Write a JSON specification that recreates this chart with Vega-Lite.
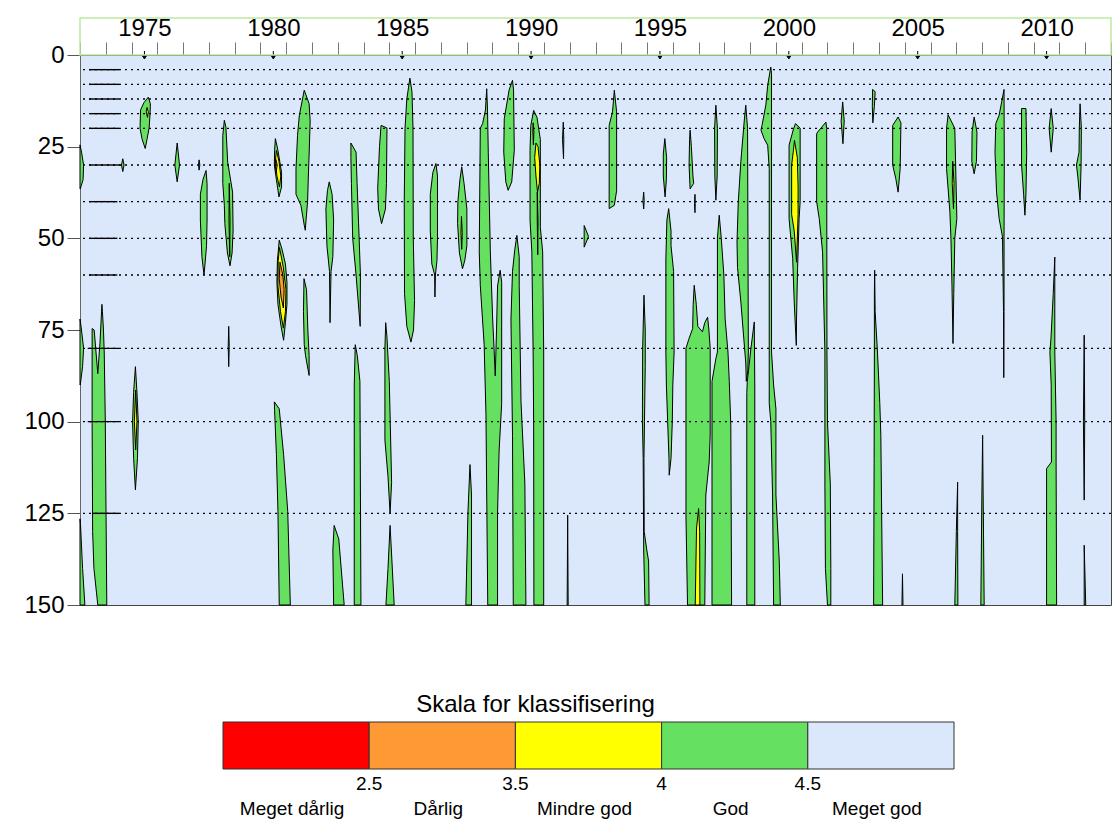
{
  "$schema": "https://vega.github.io/schema/vega-lite/v6.json",
  "background": "white",
  "padding": {"left": 23, "top": 15, "right": 5, "bottom": 5},
  "bounds": "flush",
  "spacing": 117,
  "config": {
    "font": "Liberation Sans",
    "view": {"stroke": null},
    "axis": {"labelColor": "#000", "labelFont": "Liberation Sans", "grid": false, "labelOverlap": false},
    "axisX": {"labelOverlap": false},
    "axisQuantitative": {"labelOverlap": false}
  },
  "datasets": {
    "felt": [
      {"id":"g01","klasse":"God","n":1,"aar":1973.00,"dyp":24.5},{"id":"g01","klasse":"God","n":2,"aar":1973.06,"dyp":26.5},{"id":"g01","klasse":"God","n":3,"aar":1973.14,"dyp":30},{"id":"g01","klasse":"God","n":4,"aar":1973.12,"dyp":34},{"id":"g01","klasse":"God","n":5,"aar":1973.01,"dyp":36.5},{"id":"g01","klasse":"God","n":6,"aar":1973.00,"dyp":36.5},{"id":"g01","klasse":"God","n":7,"aar":1973.00,"dyp":24.5},
      {"id":"g02","klasse":"God","n":1,"aar":1973.00,"dyp":72},{"id":"g02","klasse":"God","n":2,"aar":1973.04,"dyp":74},{"id":"g02","klasse":"God","n":3,"aar":1973.14,"dyp":80},{"id":"g02","klasse":"God","n":4,"aar":1973.10,"dyp":85},{"id":"g02","klasse":"God","n":5,"aar":1973.01,"dyp":90},{"id":"g02","klasse":"God","n":6,"aar":1973.00,"dyp":90},{"id":"g02","klasse":"God","n":7,"aar":1973.00,"dyp":72},
      {"id":"g03","klasse":"God","n":1,"aar":1973.00,"dyp":126.5},{"id":"g03","klasse":"God","n":2,"aar":1973.02,"dyp":128},{"id":"g03","klasse":"God","n":3,"aar":1973.10,"dyp":140},{"id":"g03","klasse":"God","n":4,"aar":1973.19,"dyp":150},{"id":"g03","klasse":"God","n":5,"aar":1973.00,"dyp":150},{"id":"g03","klasse":"God","n":6,"aar":1973.00,"dyp":126.5},
      {"id":"g04","klasse":"God","n":1,"aar":1973.47,"dyp":74.6},{"id":"g04","klasse":"God","n":2,"aar":1973.55,"dyp":75},{"id":"g04","klasse":"God","n":3,"aar":1973.69,"dyp":86.9},{"id":"g04","klasse":"God","n":4,"aar":1973.78,"dyp":78},{"id":"g04","klasse":"God","n":5,"aar":1973.85,"dyp":68},{"id":"g04","klasse":"God","n":6,"aar":1973.87,"dyp":70},{"id":"g04","klasse":"God","n":7,"aar":1973.91,"dyp":75},{"id":"g04","klasse":"God","n":8,"aar":1973.94,"dyp":81},{"id":"g04","klasse":"God","n":9,"aar":1973.98,"dyp":99},{"id":"g04","klasse":"God","n":10,"aar":1974.01,"dyp":125},{"id":"g04","klasse":"God","n":11,"aar":1974.04,"dyp":150},{"id":"g04","klasse":"God","n":12,"aar":1973.69,"dyp":150},{"id":"g04","klasse":"God","n":13,"aar":1973.54,"dyp":140},{"id":"g04","klasse":"God","n":14,"aar":1973.49,"dyp":130},{"id":"g04","klasse":"God","n":15,"aar":1973.47,"dyp":100},{"id":"g04","klasse":"God","n":16,"aar":1973.47,"dyp":80},{"id":"g04","klasse":"God","n":17,"aar":1973.47,"dyp":74.6},
      {"id":"g05","klasse":"God","n":1,"aar":1975.65,"dyp":11.5},{"id":"g05","klasse":"God","n":2,"aar":1975.73,"dyp":13.3},{"id":"g05","klasse":"God","n":3,"aar":1975.72,"dyp":16},{"id":"g05","klasse":"God","n":4,"aar":1975.68,"dyp":20},{"id":"g05","klasse":"God","n":5,"aar":1975.60,"dyp":23},{"id":"g05","klasse":"God","n":6,"aar":1975.53,"dyp":25.5},{"id":"g05","klasse":"God","n":7,"aar":1975.41,"dyp":23},{"id":"g05","klasse":"God","n":8,"aar":1975.33,"dyp":20},{"id":"g05","klasse":"God","n":9,"aar":1975.35,"dyp":15},{"id":"g05","klasse":"God","n":10,"aar":1975.48,"dyp":13},{"id":"g05","klasse":"God","n":11,"aar":1975.65,"dyp":11.5},
      {"id":"y05","klasse":"Mindre god","n":1,"aar":1975.60,"dyp":14.3},{"id":"y05","klasse":"Mindre god","n":2,"aar":1975.65,"dyp":15.5},{"id":"y05","klasse":"Mindre god","n":3,"aar":1975.62,"dyp":17},{"id":"y05","klasse":"Mindre god","n":4,"aar":1975.57,"dyp":15.5},{"id":"y05","klasse":"Mindre god","n":5,"aar":1975.60,"dyp":14.3},
      {"id":"g06","klasse":"God","n":1,"aar":1974.66,"dyp":28.3},{"id":"g06","klasse":"God","n":2,"aar":1974.71,"dyp":30},{"id":"g06","klasse":"God","n":3,"aar":1974.66,"dyp":31.8},{"id":"g06","klasse":"God","n":4,"aar":1974.61,"dyp":30},{"id":"g06","klasse":"God","n":5,"aar":1974.66,"dyp":28.3},
      {"id":"g07","klasse":"God","n":1,"aar":1976.77,"dyp":24},{"id":"g07","klasse":"God","n":2,"aar":1976.86,"dyp":30},{"id":"g07","klasse":"God","n":3,"aar":1976.77,"dyp":34.6},{"id":"g07","klasse":"God","n":4,"aar":1976.68,"dyp":30},{"id":"g07","klasse":"God","n":5,"aar":1976.77,"dyp":24},
      {"id":"g08","klasse":"God","n":1,"aar":1977.62,"dyp":28.6},{"id":"g08","klasse":"God","n":2,"aar":1977.65,"dyp":30},{"id":"g08","klasse":"God","n":3,"aar":1977.62,"dyp":31.4},{"id":"g08","klasse":"God","n":4,"aar":1977.60,"dyp":30},{"id":"g08","klasse":"God","n":5,"aar":1977.62,"dyp":28.6},
      {"id":"g09","klasse":"God","n":1,"aar":1977.89,"dyp":31.5},{"id":"g09","klasse":"God","n":2,"aar":1977.93,"dyp":35},{"id":"g09","klasse":"God","n":3,"aar":1977.93,"dyp":45},{"id":"g09","klasse":"God","n":4,"aar":1977.91,"dyp":52},{"id":"g09","klasse":"God","n":5,"aar":1977.85,"dyp":57},{"id":"g09","klasse":"God","n":6,"aar":1977.81,"dyp":60},{"id":"g09","klasse":"God","n":7,"aar":1977.73,"dyp":55},{"id":"g09","klasse":"God","n":8,"aar":1977.67,"dyp":45},{"id":"g09","klasse":"God","n":9,"aar":1977.67,"dyp":38},{"id":"g09","klasse":"God","n":10,"aar":1977.77,"dyp":34},{"id":"g09","klasse":"God","n":11,"aar":1977.89,"dyp":31.5},
      {"id":"g10","klasse":"God","n":1,"aar":1978.60,"dyp":17.8},{"id":"g10","klasse":"God","n":2,"aar":1978.66,"dyp":19.6},{"id":"g10","klasse":"God","n":3,"aar":1978.73,"dyp":29.2},{"id":"g10","klasse":"God","n":4,"aar":1978.92,"dyp":37.4},{"id":"g10","klasse":"God","n":5,"aar":1978.94,"dyp":48},{"id":"g10","klasse":"God","n":6,"aar":1978.90,"dyp":54},{"id":"g10","klasse":"God","n":7,"aar":1978.82,"dyp":57.5},{"id":"g10","klasse":"God","n":8,"aar":1978.72,"dyp":54},{"id":"g10","klasse":"God","n":9,"aar":1978.62,"dyp":46},{"id":"g10","klasse":"God","n":10,"aar":1978.60,"dyp":41},{"id":"g10","klasse":"God","n":11,"aar":1978.54,"dyp":35},{"id":"g10","klasse":"God","n":12,"aar":1978.54,"dyp":22},{"id":"g10","klasse":"God","n":13,"aar":1978.60,"dyp":17.8},
      {"id":"y10","klasse":"Mindre god","n":1,"aar":1978.79,"dyp":35},{"id":"y10","klasse":"Mindre god","n":2,"aar":1978.82,"dyp":45},{"id":"y10","klasse":"Mindre god","n":3,"aar":1978.81,"dyp":55},{"id":"y10","klasse":"Mindre god","n":4,"aar":1978.78,"dyp":45},{"id":"y10","klasse":"Mindre god","n":5,"aar":1978.79,"dyp":35},
      {"id":"g11","klasse":"God","n":1,"aar":1980.58,"dyp":22.8},{"id":"g11","klasse":"God","n":2,"aar":1980.68,"dyp":26},{"id":"g11","klasse":"God","n":3,"aar":1980.82,"dyp":32},{"id":"g11","klasse":"God","n":4,"aar":1980.82,"dyp":36},{"id":"g11","klasse":"God","n":5,"aar":1980.72,"dyp":38.7},{"id":"g11","klasse":"God","n":6,"aar":1980.62,"dyp":34},{"id":"g11","klasse":"God","n":7,"aar":1980.54,"dyp":30},{"id":"g11","klasse":"God","n":8,"aar":1980.55,"dyp":26},{"id":"g11","klasse":"God","n":9,"aar":1980.58,"dyp":22.8},
      {"id":"y11","klasse":"Mindre god","n":1,"aar":1980.62,"dyp":26},{"id":"y11","klasse":"Mindre god","n":2,"aar":1980.72,"dyp":29},{"id":"y11","klasse":"Mindre god","n":3,"aar":1980.79,"dyp":33},{"id":"y11","klasse":"Mindre god","n":4,"aar":1980.74,"dyp":36},{"id":"y11","klasse":"Mindre god","n":5,"aar":1980.64,"dyp":33},{"id":"y11","klasse":"Mindre god","n":6,"aar":1980.58,"dyp":29},{"id":"y11","klasse":"Mindre god","n":7,"aar":1980.62,"dyp":26},
      {"id":"o11","klasse":"Dårlig","n":1,"aar":1980.60,"dyp":28.5},{"id":"o11","klasse":"Dårlig","n":2,"aar":1980.65,"dyp":30},{"id":"o11","klasse":"Dårlig","n":3,"aar":1980.61,"dyp":32},{"id":"o11","klasse":"Dårlig","n":4,"aar":1980.57,"dyp":30},{"id":"o11","klasse":"Dårlig","n":5,"aar":1980.60,"dyp":28.5},
      {"id":"g12","klasse":"God","n":1,"aar":1980.73,"dyp":50.5},{"id":"g12","klasse":"God","n":2,"aar":1980.84,"dyp":53},{"id":"g12","klasse":"God","n":3,"aar":1980.97,"dyp":57},{"id":"g12","klasse":"God","n":4,"aar":1981.03,"dyp":62},{"id":"g12","klasse":"God","n":5,"aar":1981.03,"dyp":68},{"id":"g12","klasse":"God","n":6,"aar":1980.97,"dyp":73},{"id":"g12","klasse":"God","n":7,"aar":1980.90,"dyp":77.8},{"id":"g12","klasse":"God","n":8,"aar":1980.80,"dyp":74},{"id":"g12","klasse":"God","n":9,"aar":1980.68,"dyp":68},{"id":"g12","klasse":"God","n":10,"aar":1980.64,"dyp":62},{"id":"g12","klasse":"God","n":11,"aar":1980.66,"dyp":56},{"id":"g12","klasse":"God","n":12,"aar":1980.73,"dyp":50.5},
      {"id":"y12","klasse":"Mindre god","n":1,"aar":1980.74,"dyp":52.5},{"id":"y12","klasse":"Mindre god","n":2,"aar":1980.89,"dyp":58},{"id":"y12","klasse":"Mindre god","n":3,"aar":1980.99,"dyp":64},{"id":"y12","klasse":"Mindre god","n":4,"aar":1980.97,"dyp":70},{"id":"y12","klasse":"Mindre god","n":5,"aar":1980.89,"dyp":74.5},{"id":"y12","klasse":"Mindre god","n":6,"aar":1980.78,"dyp":70},{"id":"y12","klasse":"Mindre god","n":7,"aar":1980.68,"dyp":63},{"id":"y12","klasse":"Mindre god","n":8,"aar":1980.69,"dyp":56},{"id":"y12","klasse":"Mindre god","n":9,"aar":1980.74,"dyp":52.5},
      {"id":"o12","klasse":"Dårlig","n":1,"aar":1980.76,"dyp":56.5},{"id":"o12","klasse":"Dårlig","n":2,"aar":1980.87,"dyp":60},{"id":"o12","klasse":"Dårlig","n":3,"aar":1980.92,"dyp":64},{"id":"o12","klasse":"Dårlig","n":4,"aar":1980.89,"dyp":69},{"id":"o12","klasse":"Dårlig","n":5,"aar":1980.80,"dyp":66},{"id":"o12","klasse":"Dårlig","n":6,"aar":1980.73,"dyp":61},{"id":"o12","klasse":"Dårlig","n":7,"aar":1980.76,"dyp":56.5},
      {"id":"g13","klasse":"God","n":1,"aar":1981.70,"dyp":9.6},{"id":"g13","klasse":"God","n":2,"aar":1981.89,"dyp":13.3},{"id":"g13","klasse":"God","n":3,"aar":1981.93,"dyp":18},{"id":"g13","klasse":"God","n":4,"aar":1981.89,"dyp":27},{"id":"g13","klasse":"God","n":5,"aar":1981.86,"dyp":33},{"id":"g13","klasse":"God","n":6,"aar":1981.83,"dyp":40},{"id":"g13","klasse":"God","n":7,"aar":1981.77,"dyp":45},{"id":"g13","klasse":"God","n":8,"aar":1981.74,"dyp":47.8},{"id":"g13","klasse":"God","n":9,"aar":1981.70,"dyp":46.4},{"id":"g13","klasse":"God","n":10,"aar":1981.57,"dyp":41},{"id":"g13","klasse":"God","n":11,"aar":1981.38,"dyp":38},{"id":"g13","klasse":"God","n":12,"aar":1981.38,"dyp":31},{"id":"g13","klasse":"God","n":13,"aar":1981.44,"dyp":21.9},{"id":"g13","klasse":"God","n":14,"aar":1981.51,"dyp":16.4},{"id":"g13","klasse":"God","n":15,"aar":1981.70,"dyp":9.6},
      {"id":"g14","klasse":"God","n":1,"aar":1982.67,"dyp":34.6},{"id":"g14","klasse":"God","n":2,"aar":1982.78,"dyp":38},{"id":"g14","klasse":"God","n":3,"aar":1982.84,"dyp":45},{"id":"g14","klasse":"God","n":4,"aar":1982.81,"dyp":55},{"id":"g14","klasse":"God","n":5,"aar":1982.74,"dyp":59},{"id":"g14","klasse":"God","n":6,"aar":1982.72,"dyp":66},{"id":"g14","klasse":"God","n":7,"aar":1982.70,"dyp":73},{"id":"g14","klasse":"God","n":8,"aar":1982.69,"dyp":66},{"id":"g14","klasse":"God","n":9,"aar":1982.68,"dyp":59},{"id":"g14","klasse":"God","n":10,"aar":1982.58,"dyp":52},{"id":"g14","klasse":"God","n":11,"aar":1982.54,"dyp":42},{"id":"g14","klasse":"God","n":12,"aar":1982.60,"dyp":37},{"id":"g14","klasse":"God","n":13,"aar":1982.67,"dyp":34.6},
      {"id":"g15","klasse":"God","n":1,"aar":1983.51,"dyp":24},{"id":"g15","klasse":"God","n":2,"aar":1983.71,"dyp":26.5},{"id":"g15","klasse":"God","n":3,"aar":1983.75,"dyp":35},{"id":"g15","klasse":"God","n":4,"aar":1983.83,"dyp":50},{"id":"g15","klasse":"God","n":5,"aar":1983.88,"dyp":60},{"id":"g15","klasse":"God","n":6,"aar":1983.87,"dyp":74},{"id":"g15","klasse":"God","n":7,"aar":1983.71,"dyp":60},{"id":"g15","klasse":"God","n":8,"aar":1983.58,"dyp":50},{"id":"g15","klasse":"God","n":9,"aar":1983.53,"dyp":35},{"id":"g15","klasse":"God","n":10,"aar":1983.51,"dyp":28},{"id":"g15","klasse":"God","n":11,"aar":1983.51,"dyp":24},
      {"id":"g16","klasse":"God","n":1,"aar":1984.68,"dyp":19.2},{"id":"g16","klasse":"God","n":2,"aar":1984.91,"dyp":19.9},{"id":"g16","klasse":"God","n":3,"aar":1984.89,"dyp":35},{"id":"g16","klasse":"God","n":4,"aar":1984.85,"dyp":42},{"id":"g16","klasse":"God","n":5,"aar":1984.70,"dyp":46},{"id":"g16","klasse":"God","n":6,"aar":1984.58,"dyp":42},{"id":"g16","klasse":"God","n":7,"aar":1984.55,"dyp":36.4},{"id":"g16","klasse":"God","n":8,"aar":1984.62,"dyp":25},{"id":"g16","klasse":"God","n":9,"aar":1984.68,"dyp":19.2},
      {"id":"g17","klasse":"God","n":1,"aar":1985.80,"dyp":6.3},{"id":"g17","klasse":"God","n":2,"aar":1985.88,"dyp":10},{"id":"g17","klasse":"God","n":3,"aar":1985.92,"dyp":20},{"id":"g17","klasse":"God","n":4,"aar":1985.93,"dyp":50},{"id":"g17","klasse":"God","n":5,"aar":1985.98,"dyp":67},{"id":"g17","klasse":"God","n":6,"aar":1985.94,"dyp":75},{"id":"g17","klasse":"God","n":7,"aar":1985.84,"dyp":78.3},{"id":"g17","klasse":"God","n":8,"aar":1985.68,"dyp":74},{"id":"g17","klasse":"God","n":9,"aar":1985.59,"dyp":65},{"id":"g17","klasse":"God","n":10,"aar":1985.58,"dyp":40},{"id":"g17","klasse":"God","n":11,"aar":1985.61,"dyp":20},{"id":"g17","klasse":"God","n":12,"aar":1985.68,"dyp":12},{"id":"g17","klasse":"God","n":13,"aar":1985.80,"dyp":6.3},
      {"id":"g18","klasse":"God","n":1,"aar":1986.81,"dyp":29.6},{"id":"g18","klasse":"God","n":2,"aar":1986.87,"dyp":33},{"id":"g18","klasse":"God","n":3,"aar":1986.87,"dyp":50},{"id":"g18","klasse":"God","n":4,"aar":1986.85,"dyp":56},{"id":"g18","klasse":"God","n":5,"aar":1986.79,"dyp":60},{"id":"g18","klasse":"God","n":6,"aar":1986.77,"dyp":66},{"id":"g18","klasse":"God","n":7,"aar":1986.76,"dyp":60},{"id":"g18","klasse":"God","n":8,"aar":1986.65,"dyp":57},{"id":"g18","klasse":"God","n":9,"aar":1986.59,"dyp":48},{"id":"g18","klasse":"God","n":10,"aar":1986.59,"dyp":38},{"id":"g18","klasse":"God","n":11,"aar":1986.69,"dyp":32},{"id":"g18","klasse":"God","n":12,"aar":1986.81,"dyp":29.6},
      {"id":"g19","klasse":"God","n":1,"aar":1981.69,"dyp":61},{"id":"g19","klasse":"God","n":2,"aar":1981.79,"dyp":64},{"id":"g19","klasse":"God","n":3,"aar":1981.84,"dyp":75},{"id":"g19","klasse":"God","n":4,"aar":1981.89,"dyp":82},{"id":"g19","klasse":"God","n":5,"aar":1981.89,"dyp":87.4},{"id":"g19","klasse":"God","n":6,"aar":1981.75,"dyp":82},{"id":"g19","klasse":"God","n":7,"aar":1981.70,"dyp":79},{"id":"g19","klasse":"God","n":8,"aar":1981.67,"dyp":70},{"id":"g19","klasse":"God","n":9,"aar":1981.69,"dyp":61},
      {"id":"g20","klasse":"God","n":1,"aar":1984.86,"dyp":73},{"id":"g20","klasse":"God","n":2,"aar":1984.91,"dyp":77},{"id":"g20","klasse":"God","n":3,"aar":1985.00,"dyp":89},{"id":"g20","klasse":"God","n":4,"aar":1985.09,"dyp":116.6},{"id":"g20","klasse":"God","n":5,"aar":1985.03,"dyp":125},{"id":"g20","klasse":"God","n":6,"aar":1984.95,"dyp":115},{"id":"g20","klasse":"God","n":7,"aar":1984.83,"dyp":105},{"id":"g20","klasse":"God","n":8,"aar":1984.83,"dyp":80},{"id":"g20","klasse":"God","n":9,"aar":1984.86,"dyp":73},
      {"id":"g21","klasse":"God","n":1,"aar":1985.03,"dyp":128.3},{"id":"g21","klasse":"God","n":2,"aar":1985.08,"dyp":135},{"id":"g21","klasse":"God","n":3,"aar":1985.19,"dyp":150},{"id":"g21","klasse":"God","n":4,"aar":1984.87,"dyp":150},{"id":"g21","klasse":"God","n":5,"aar":1984.95,"dyp":140},{"id":"g21","klasse":"God","n":6,"aar":1985.03,"dyp":128.3},
      {"id":"g22","klasse":"God","n":1,"aar":1983.68,"dyp":79},{"id":"g22","klasse":"God","n":2,"aar":1983.76,"dyp":82},{"id":"g22","klasse":"God","n":3,"aar":1983.86,"dyp":89},{"id":"g22","klasse":"God","n":4,"aar":1983.90,"dyp":150},{"id":"g22","klasse":"God","n":5,"aar":1983.64,"dyp":150},{"id":"g22","klasse":"God","n":6,"aar":1983.64,"dyp":90},{"id":"g22","klasse":"God","n":7,"aar":1983.68,"dyp":79},
      {"id":"g23","klasse":"God","n":1,"aar":1982.86,"dyp":128.3},{"id":"g23","klasse":"God","n":2,"aar":1983.04,"dyp":132},{"id":"g23","klasse":"God","n":3,"aar":1983.25,"dyp":150},{"id":"g23","klasse":"God","n":4,"aar":1982.84,"dyp":150},{"id":"g23","klasse":"God","n":5,"aar":1982.81,"dyp":135},{"id":"g23","klasse":"God","n":6,"aar":1982.86,"dyp":128.3},
      {"id":"g24","klasse":"God","n":1,"aar":1980.54,"dyp":94.6},{"id":"g24","klasse":"God","n":2,"aar":1980.73,"dyp":96.5},{"id":"g24","klasse":"God","n":3,"aar":1980.90,"dyp":109},{"id":"g24","klasse":"God","n":4,"aar":1981.06,"dyp":124.5},{"id":"g24","klasse":"God","n":5,"aar":1981.16,"dyp":150},{"id":"g24","klasse":"God","n":6,"aar":1980.73,"dyp":150},{"id":"g24","klasse":"God","n":7,"aar":1980.68,"dyp":124.5},{"id":"g24","klasse":"God","n":8,"aar":1980.62,"dyp":109},{"id":"g24","klasse":"God","n":9,"aar":1980.55,"dyp":97},{"id":"g24","klasse":"God","n":10,"aar":1980.54,"dyp":94.6},
      {"id":"g25","klasse":"God","n":1,"aar":1975.15,"dyp":85},{"id":"g25","klasse":"God","n":2,"aar":1975.21,"dyp":92},{"id":"g25","klasse":"God","n":3,"aar":1975.26,"dyp":100},{"id":"g25","klasse":"God","n":4,"aar":1975.23,"dyp":110},{"id":"g25","klasse":"God","n":5,"aar":1975.15,"dyp":118.6},{"id":"g25","klasse":"God","n":6,"aar":1975.08,"dyp":110},{"id":"g25","klasse":"God","n":7,"aar":1975.04,"dyp":100},{"id":"g25","klasse":"God","n":8,"aar":1975.08,"dyp":92},{"id":"g25","klasse":"God","n":9,"aar":1975.15,"dyp":85},
      {"id":"y25","klasse":"Mindre god","n":1,"aar":1975.16,"dyp":91.4},{"id":"y25","klasse":"Mindre god","n":2,"aar":1975.21,"dyp":100},{"id":"y25","klasse":"Mindre god","n":3,"aar":1975.16,"dyp":107.7},{"id":"y25","klasse":"Mindre god","n":4,"aar":1975.11,"dyp":100},{"id":"y25","klasse":"Mindre god","n":5,"aar":1975.16,"dyp":91.4},
      {"id":"g26","klasse":"God","n":1,"aar":1978.77,"dyp":74},{"id":"g26","klasse":"God","n":2,"aar":1978.79,"dyp":79.5},{"id":"g26","klasse":"God","n":3,"aar":1978.77,"dyp":85},{"id":"g26","klasse":"God","n":4,"aar":1978.75,"dyp":79.5},{"id":"g26","klasse":"God","n":5,"aar":1978.77,"dyp":74},
      {"id":"g27","klasse":"God","n":1,"aar":1987.81,"dyp":30.5},{"id":"g27","klasse":"God","n":2,"aar":1987.90,"dyp":35},{"id":"g27","klasse":"God","n":3,"aar":1988.01,"dyp":42},{"id":"g27","klasse":"God","n":4,"aar":1988.01,"dyp":52},{"id":"g27","klasse":"God","n":5,"aar":1987.93,"dyp":56},{"id":"g27","klasse":"God","n":6,"aar":1987.84,"dyp":58.3},{"id":"g27","klasse":"God","n":7,"aar":1987.72,"dyp":54},{"id":"g27","klasse":"God","n":8,"aar":1987.65,"dyp":46},{"id":"g27","klasse":"God","n":9,"aar":1987.66,"dyp":40},{"id":"g27","klasse":"God","n":10,"aar":1987.74,"dyp":34},{"id":"g27","klasse":"God","n":11,"aar":1987.81,"dyp":30.5},
      {"id":"y27","klasse":"Mindre god","n":1,"aar":1987.80,"dyp":44},{"id":"y27","klasse":"Mindre god","n":2,"aar":1987.83,"dyp":48.5},{"id":"y27","klasse":"Mindre god","n":3,"aar":1987.81,"dyp":53},{"id":"y27","klasse":"Mindre god","n":4,"aar":1987.78,"dyp":48.5},{"id":"y27","klasse":"Mindre god","n":5,"aar":1987.80,"dyp":44},
      {"id":"g28","klasse":"God","n":1,"aar":1988.78,"dyp":9.2},{"id":"g28","klasse":"God","n":2,"aar":1988.81,"dyp":15},{"id":"g28","klasse":"God","n":3,"aar":1988.84,"dyp":26.5},{"id":"g28","klasse":"God","n":4,"aar":1988.92,"dyp":53.7},{"id":"g28","klasse":"God","n":5,"aar":1989.01,"dyp":72},{"id":"g28","klasse":"God","n":6,"aar":1989.07,"dyp":81},{"id":"g28","klasse":"God","n":7,"aar":1989.11,"dyp":87.5},{"id":"g28","klasse":"God","n":8,"aar":1989.16,"dyp":75},{"id":"g28","klasse":"God","n":9,"aar":1989.20,"dyp":63},{"id":"g28","klasse":"God","n":10,"aar":1989.30,"dyp":58.7},{"id":"g28","klasse":"God","n":11,"aar":1989.36,"dyp":62},{"id":"g28","klasse":"God","n":12,"aar":1989.36,"dyp":95},{"id":"g28","klasse":"God","n":13,"aar":1989.26,"dyp":108},{"id":"g28","klasse":"God","n":14,"aar":1989.20,"dyp":125},{"id":"g28","klasse":"God","n":15,"aar":1989.20,"dyp":150},{"id":"g28","klasse":"God","n":16,"aar":1988.82,"dyp":150},{"id":"g28","klasse":"God","n":17,"aar":1988.75,"dyp":98},{"id":"g28","klasse":"God","n":18,"aar":1988.68,"dyp":79},{"id":"g28","klasse":"God","n":19,"aar":1988.53,"dyp":62.8},{"id":"g28","klasse":"God","n":20,"aar":1988.49,"dyp":53.7},{"id":"g28","klasse":"God","n":21,"aar":1988.53,"dyp":20},{"id":"g28","klasse":"God","n":22,"aar":1988.62,"dyp":18.7},{"id":"g28","klasse":"God","n":23,"aar":1988.73,"dyp":15},{"id":"g28","klasse":"God","n":24,"aar":1988.78,"dyp":9.2},
      {"id":"g29","klasse":"God","n":1,"aar":1989.78,"dyp":6.9},{"id":"g29","klasse":"God","n":2,"aar":1989.82,"dyp":9.5},{"id":"g29","klasse":"God","n":3,"aar":1989.85,"dyp":26},{"id":"g29","klasse":"God","n":4,"aar":1989.75,"dyp":34.6},{"id":"g29","klasse":"God","n":5,"aar":1989.61,"dyp":36.9},{"id":"g29","klasse":"God","n":6,"aar":1989.52,"dyp":34.6},{"id":"g29","klasse":"God","n":7,"aar":1989.44,"dyp":26.5},{"id":"g29","klasse":"God","n":8,"aar":1989.46,"dyp":17.4},{"id":"g29","klasse":"God","n":9,"aar":1989.65,"dyp":9.5},{"id":"g29","klasse":"God","n":10,"aar":1989.78,"dyp":6.9},
      {"id":"g30","klasse":"God","n":1,"aar":1989.95,"dyp":49.2},{"id":"g30","klasse":"God","n":2,"aar":1990.04,"dyp":55},{"id":"g30","klasse":"God","n":3,"aar":1990.04,"dyp":62.8},{"id":"g30","klasse":"God","n":4,"aar":1990.08,"dyp":81},{"id":"g30","klasse":"God","n":5,"aar":1990.11,"dyp":94.6},{"id":"g30","klasse":"God","n":6,"aar":1990.26,"dyp":117},{"id":"g30","klasse":"God","n":7,"aar":1990.30,"dyp":150},{"id":"g30","klasse":"God","n":8,"aar":1989.81,"dyp":150},{"id":"g30","klasse":"God","n":9,"aar":1989.78,"dyp":103.7},{"id":"g30","klasse":"God","n":10,"aar":1989.72,"dyp":72},{"id":"g30","klasse":"God","n":11,"aar":1989.78,"dyp":59},{"id":"g30","klasse":"God","n":12,"aar":1989.87,"dyp":53},{"id":"g30","klasse":"God","n":13,"aar":1989.95,"dyp":49.2},
      {"id":"g31","klasse":"God","n":1,"aar":1990.60,"dyp":15.1},{"id":"g31","klasse":"God","n":2,"aar":1990.73,"dyp":17},{"id":"g31","klasse":"God","n":3,"aar":1990.86,"dyp":23},{"id":"g31","klasse":"God","n":4,"aar":1990.86,"dyp":47},{"id":"g31","klasse":"God","n":5,"aar":1990.95,"dyp":53.7},{"id":"g31","klasse":"God","n":6,"aar":1990.99,"dyp":81},{"id":"g31","klasse":"God","n":7,"aar":1990.99,"dyp":150},{"id":"g31","klasse":"God","n":8,"aar":1990.61,"dyp":150},{"id":"g31","klasse":"God","n":9,"aar":1990.60,"dyp":100},{"id":"g31","klasse":"God","n":10,"aar":1990.58,"dyp":81},{"id":"g31","klasse":"God","n":11,"aar":1990.53,"dyp":53.7},{"id":"g31","klasse":"God","n":12,"aar":1990.46,"dyp":45},{"id":"g31","klasse":"God","n":13,"aar":1990.46,"dyp":26},{"id":"g31","klasse":"God","n":14,"aar":1990.49,"dyp":19.2},{"id":"g31","klasse":"God","n":15,"aar":1990.60,"dyp":15.1},
      {"id":"y31","klasse":"Mindre god","n":1,"aar":1990.69,"dyp":24},{"id":"y31","klasse":"Mindre god","n":2,"aar":1990.77,"dyp":25},{"id":"y31","klasse":"Mindre god","n":3,"aar":1990.84,"dyp":30},{"id":"y31","klasse":"Mindre god","n":4,"aar":1990.82,"dyp":35},{"id":"y31","klasse":"Mindre god","n":5,"aar":1990.75,"dyp":37.4},{"id":"y31","klasse":"Mindre god","n":6,"aar":1990.69,"dyp":33},{"id":"y31","klasse":"Mindre god","n":7,"aar":1990.64,"dyp":28},{"id":"y31","klasse":"Mindre god","n":8,"aar":1990.69,"dyp":24},
      {"id":"y32","klasse":"Mindre god","n":1,"aar":1990.58,"dyp":18.5},{"id":"y32","klasse":"Mindre god","n":2,"aar":1990.61,"dyp":21},{"id":"y32","klasse":"Mindre god","n":3,"aar":1990.59,"dyp":24.5},{"id":"y32","klasse":"Mindre god","n":4,"aar":1990.57,"dyp":21},{"id":"y32","klasse":"Mindre god","n":5,"aar":1990.58,"dyp":18.5},
      {"id":"y33","klasse":"Mindre god","n":1,"aar":1990.74,"dyp":37.4},{"id":"y33","klasse":"Mindre god","n":2,"aar":1990.77,"dyp":45},{"id":"y33","klasse":"Mindre god","n":3,"aar":1990.76,"dyp":54.5},{"id":"y33","klasse":"Mindre god","n":4,"aar":1990.74,"dyp":45},{"id":"y33","klasse":"Mindre god","n":5,"aar":1990.74,"dyp":37.4},
      {"id":"g32","klasse":"God","n":1,"aar":1991.75,"dyp":18.3},{"id":"g32","klasse":"God","n":2,"aar":1991.77,"dyp":23},{"id":"g32","klasse":"God","n":3,"aar":1991.76,"dyp":28.3},{"id":"g32","klasse":"God","n":4,"aar":1991.72,"dyp":23},{"id":"g32","klasse":"God","n":5,"aar":1991.75,"dyp":18.3},
      {"id":"g33","klasse":"God","n":1,"aar":1992.56,"dyp":46.5},{"id":"g33","klasse":"God","n":2,"aar":1992.73,"dyp":49.5},{"id":"g33","klasse":"God","n":3,"aar":1992.56,"dyp":52.4},{"id":"g33","klasse":"God","n":4,"aar":1992.56,"dyp":46.5},
      {"id":"g34","klasse":"God","n":1,"aar":1993.73,"dyp":9.6},{"id":"g34","klasse":"God","n":2,"aar":1993.82,"dyp":15.5},{"id":"g34","klasse":"God","n":3,"aar":1993.82,"dyp":37},{"id":"g34","klasse":"God","n":4,"aar":1993.73,"dyp":41},{"id":"g34","klasse":"God","n":5,"aar":1993.53,"dyp":41.9},{"id":"g34","klasse":"God","n":6,"aar":1993.53,"dyp":19.2},{"id":"g34","klasse":"God","n":7,"aar":1993.66,"dyp":15.5},{"id":"g34","klasse":"God","n":8,"aar":1993.73,"dyp":9.6},
      {"id":"g35","klasse":"God","n":1,"aar":1994.87,"dyp":37.4},{"id":"g35","klasse":"God","n":2,"aar":1994.89,"dyp":39.7},{"id":"g35","klasse":"God","n":3,"aar":1994.87,"dyp":42},{"id":"g35","klasse":"God","n":4,"aar":1994.84,"dyp":39.7},{"id":"g35","klasse":"God","n":5,"aar":1994.87,"dyp":37.4},
      {"id":"g36","klasse":"God","n":1,"aar":1994.88,"dyp":65.5},{"id":"g36","klasse":"God","n":2,"aar":1994.93,"dyp":75},{"id":"g36","klasse":"God","n":3,"aar":1994.93,"dyp":85},{"id":"g36","klasse":"God","n":4,"aar":1994.90,"dyp":100},{"id":"g36","klasse":"God","n":5,"aar":1994.88,"dyp":110},{"id":"g36","klasse":"God","n":6,"aar":1994.89,"dyp":130},{"id":"g36","klasse":"God","n":7,"aar":1994.99,"dyp":135},{"id":"g36","klasse":"God","n":8,"aar":1995.06,"dyp":138},{"id":"g36","klasse":"God","n":9,"aar":1995.08,"dyp":150},{"id":"g36","klasse":"God","n":10,"aar":1994.92,"dyp":150},{"id":"g36","klasse":"God","n":11,"aar":1994.87,"dyp":135},{"id":"g36","klasse":"God","n":12,"aar":1994.85,"dyp":110},{"id":"g36","klasse":"God","n":13,"aar":1994.82,"dyp":100},{"id":"g36","klasse":"God","n":14,"aar":1994.83,"dyp":80},{"id":"g36","klasse":"God","n":15,"aar":1994.88,"dyp":65.5},
      {"id":"g37","klasse":"God","n":1,"aar":1995.69,"dyp":22.8},{"id":"g37","klasse":"God","n":2,"aar":1995.76,"dyp":28},{"id":"g37","klasse":"God","n":3,"aar":1995.75,"dyp":34},{"id":"g37","klasse":"God","n":4,"aar":1995.70,"dyp":38.7},{"id":"g37","klasse":"God","n":5,"aar":1995.63,"dyp":33},{"id":"g37","klasse":"God","n":6,"aar":1995.63,"dyp":27},{"id":"g37","klasse":"God","n":7,"aar":1995.69,"dyp":22.8},
      {"id":"g38","klasse":"God","n":1,"aar":1996.67,"dyp":20.5},{"id":"g38","klasse":"God","n":2,"aar":1996.72,"dyp":25},{"id":"g38","klasse":"God","n":3,"aar":1996.78,"dyp":33},{"id":"g38","klasse":"God","n":4,"aar":1996.81,"dyp":35},{"id":"g38","klasse":"God","n":5,"aar":1996.67,"dyp":36.5},{"id":"g38","klasse":"God","n":6,"aar":1996.63,"dyp":30},{"id":"g38","klasse":"God","n":7,"aar":1996.65,"dyp":23},{"id":"g38","klasse":"God","n":8,"aar":1996.67,"dyp":20.5},
      {"id":"g39","klasse":"God","n":1,"aar":1996.86,"dyp":38},{"id":"g39","klasse":"God","n":2,"aar":1996.87,"dyp":40.5},{"id":"g39","klasse":"God","n":3,"aar":1996.86,"dyp":43},{"id":"g39","klasse":"God","n":4,"aar":1996.84,"dyp":40.5},{"id":"g39","klasse":"God","n":5,"aar":1996.86,"dyp":38},
      {"id":"g40","klasse":"God","n":1,"aar":1997.67,"dyp":13.7},{"id":"g40","klasse":"God","n":2,"aar":1997.73,"dyp":20},{"id":"g40","klasse":"God","n":3,"aar":1997.72,"dyp":33},{"id":"g40","klasse":"God","n":4,"aar":1997.67,"dyp":39.6},{"id":"g40","klasse":"God","n":5,"aar":1997.63,"dyp":33},{"id":"g40","klasse":"God","n":6,"aar":1997.62,"dyp":20},{"id":"g40","klasse":"God","n":7,"aar":1997.67,"dyp":13.7},
      {"id":"g41","klasse":"God","n":1,"aar":1995.84,"dyp":41.9},{"id":"g41","klasse":"God","n":2,"aar":1995.93,"dyp":48},{"id":"g41","klasse":"God","n":3,"aar":1995.93,"dyp":52},{"id":"g41","klasse":"God","n":4,"aar":1996.03,"dyp":59},{"id":"g41","klasse":"God","n":5,"aar":1996.05,"dyp":81},{"id":"g41","klasse":"God","n":6,"aar":1996.00,"dyp":90},{"id":"g41","klasse":"God","n":7,"aar":1995.98,"dyp":100},{"id":"g41","klasse":"God","n":8,"aar":1995.93,"dyp":110},{"id":"g41","klasse":"God","n":9,"aar":1995.86,"dyp":114.6},{"id":"g41","klasse":"God","n":10,"aar":1995.85,"dyp":110},{"id":"g41","klasse":"God","n":11,"aar":1995.80,"dyp":100},{"id":"g41","klasse":"God","n":12,"aar":1995.75,"dyp":90},{"id":"g41","klasse":"God","n":13,"aar":1995.73,"dyp":81},{"id":"g41","klasse":"God","n":14,"aar":1995.73,"dyp":55.6},{"id":"g41","klasse":"God","n":15,"aar":1995.77,"dyp":45},{"id":"g41","klasse":"God","n":16,"aar":1995.84,"dyp":41.9},
      {"id":"g42","klasse":"God","n":1,"aar":1996.83,"dyp":62.8},{"id":"g42","klasse":"God","n":2,"aar":1996.91,"dyp":68},{"id":"g42","klasse":"God","n":3,"aar":1996.97,"dyp":74},{"id":"g42","klasse":"God","n":4,"aar":1997.15,"dyp":75.5},{"id":"g42","klasse":"God","n":5,"aar":1997.24,"dyp":73},{"id":"g42","klasse":"God","n":6,"aar":1997.35,"dyp":71.5},{"id":"g42","klasse":"God","n":7,"aar":1997.40,"dyp":75},{"id":"g42","klasse":"God","n":8,"aar":1997.45,"dyp":80},{"id":"g42","klasse":"God","n":9,"aar":1997.45,"dyp":103.7},{"id":"g42","klasse":"God","n":10,"aar":1997.41,"dyp":111},{"id":"g42","klasse":"God","n":11,"aar":1997.28,"dyp":120},{"id":"g42","klasse":"God","n":12,"aar":1997.24,"dyp":150},{"id":"g42","klasse":"God","n":13,"aar":1996.57,"dyp":150},{"id":"g42","klasse":"God","n":14,"aar":1996.51,"dyp":126},{"id":"g42","klasse":"God","n":15,"aar":1996.51,"dyp":80},{"id":"g42","klasse":"God","n":16,"aar":1996.62,"dyp":77.5},{"id":"g42","klasse":"God","n":17,"aar":1996.77,"dyp":74.6},{"id":"g42","klasse":"God","n":18,"aar":1996.79,"dyp":68},{"id":"g42","klasse":"God","n":19,"aar":1996.83,"dyp":62.8},
      {"id":"y42","klasse":"Mindre god","n":1,"aar":1997.00,"dyp":123.7},{"id":"y42","klasse":"Mindre god","n":2,"aar":1997.04,"dyp":130},{"id":"y42","klasse":"Mindre god","n":3,"aar":1997.05,"dyp":150},{"id":"y42","klasse":"Mindre god","n":4,"aar":1996.87,"dyp":150},{"id":"y42","klasse":"Mindre god","n":5,"aar":1996.92,"dyp":129},{"id":"y42","klasse":"Mindre god","n":6,"aar":1997.00,"dyp":123.7},
      {"id":"g43","klasse":"God","n":1,"aar":1997.80,"dyp":43.7},{"id":"g43","klasse":"God","n":2,"aar":1997.88,"dyp":50},{"id":"g43","klasse":"God","n":3,"aar":1997.98,"dyp":60},{"id":"g43","klasse":"God","n":4,"aar":1998.03,"dyp":72},{"id":"g43","klasse":"God","n":5,"aar":1998.14,"dyp":81},{"id":"g43","klasse":"God","n":6,"aar":1998.19,"dyp":89},{"id":"g43","klasse":"God","n":7,"aar":1998.25,"dyp":101},{"id":"g43","klasse":"God","n":8,"aar":1998.28,"dyp":150},{"id":"g43","klasse":"God","n":9,"aar":1997.52,"dyp":150},{"id":"g43","klasse":"God","n":10,"aar":1997.52,"dyp":89},{"id":"g43","klasse":"God","n":11,"aar":1997.67,"dyp":82.8},{"id":"g43","klasse":"God","n":12,"aar":1997.73,"dyp":81},{"id":"g43","klasse":"God","n":13,"aar":1997.73,"dyp":60},{"id":"g43","klasse":"God","n":14,"aar":1997.73,"dyp":50},{"id":"g43","klasse":"God","n":15,"aar":1997.80,"dyp":43.7},
      {"id":"g44","klasse":"God","n":1,"aar":1998.83,"dyp":13.7},{"id":"g44","klasse":"God","n":2,"aar":1998.90,"dyp":20},{"id":"g44","klasse":"God","n":3,"aar":1998.92,"dyp":60},{"id":"g44","klasse":"God","n":4,"aar":1998.93,"dyp":81},{"id":"g44","klasse":"God","n":5,"aar":1998.91,"dyp":86},{"id":"g44","klasse":"God","n":6,"aar":1998.85,"dyp":89},{"id":"g44","klasse":"God","n":7,"aar":1998.83,"dyp":84},{"id":"g44","klasse":"God","n":8,"aar":1998.64,"dyp":67.4},{"id":"g44","klasse":"God","n":9,"aar":1998.51,"dyp":58},{"id":"g44","klasse":"God","n":10,"aar":1998.49,"dyp":51},{"id":"g44","klasse":"God","n":11,"aar":1998.54,"dyp":40},{"id":"g44","klasse":"God","n":12,"aar":1998.64,"dyp":29},{"id":"g44","klasse":"God","n":13,"aar":1998.77,"dyp":18},{"id":"g44","klasse":"God","n":14,"aar":1998.83,"dyp":13.7},
      {"id":"g45","klasse":"God","n":1,"aar":1999.16,"dyp":72.8},{"id":"g45","klasse":"God","n":2,"aar":1999.18,"dyp":90},{"id":"g45","klasse":"God","n":3,"aar":1999.18,"dyp":150},{"id":"g45","klasse":"God","n":4,"aar":1998.87,"dyp":150},{"id":"g45","klasse":"God","n":5,"aar":1998.87,"dyp":92},{"id":"g45","klasse":"God","n":6,"aar":1998.89,"dyp":89},{"id":"g45","klasse":"God","n":7,"aar":1999.03,"dyp":80},{"id":"g45","klasse":"God","n":8,"aar":1999.16,"dyp":72.8},
      {"id":"g46","klasse":"God","n":1,"aar":1999.80,"dyp":3.3},{"id":"g46","klasse":"God","n":2,"aar":1999.83,"dyp":5},{"id":"g46","klasse":"God","n":3,"aar":1999.83,"dyp":81},{"id":"g46","klasse":"God","n":4,"aar":1999.91,"dyp":90},{"id":"g46","klasse":"God","n":5,"aar":2000.00,"dyp":96.5},{"id":"g46","klasse":"God","n":6,"aar":2000.00,"dyp":120},{"id":"g46","klasse":"God","n":7,"aar":2000.13,"dyp":138},{"id":"g46","klasse":"God","n":8,"aar":2000.17,"dyp":150},{"id":"g46","klasse":"God","n":9,"aar":1999.91,"dyp":150},{"id":"g46","klasse":"God","n":10,"aar":1999.87,"dyp":120},{"id":"g46","klasse":"God","n":11,"aar":1999.80,"dyp":100},{"id":"g46","klasse":"God","n":12,"aar":1999.74,"dyp":95},{"id":"g46","klasse":"God","n":13,"aar":1999.74,"dyp":31},{"id":"g46","klasse":"God","n":14,"aar":1999.68,"dyp":24.6},{"id":"g46","klasse":"God","n":15,"aar":1999.54,"dyp":22.8},{"id":"g46","klasse":"God","n":16,"aar":1999.42,"dyp":20.5},{"id":"g46","klasse":"God","n":17,"aar":1999.46,"dyp":19.2},{"id":"g46","klasse":"God","n":18,"aar":1999.61,"dyp":13.6},{"id":"g46","klasse":"God","n":19,"aar":1999.68,"dyp":8.3},{"id":"g46","klasse":"God","n":20,"aar":1999.80,"dyp":3.3},
      {"id":"g47","klasse":"God","n":1,"aar":2000.76,"dyp":18.7},{"id":"g47","klasse":"God","n":2,"aar":2000.94,"dyp":20},{"id":"g47","klasse":"God","n":3,"aar":2000.94,"dyp":40},{"id":"g47","klasse":"God","n":4,"aar":2000.90,"dyp":44.6},{"id":"g47","klasse":"God","n":5,"aar":2000.84,"dyp":58.3},{"id":"g47","klasse":"God","n":6,"aar":2000.80,"dyp":72},{"id":"g47","klasse":"God","n":7,"aar":2000.79,"dyp":79.2},{"id":"g47","klasse":"God","n":8,"aar":2000.71,"dyp":67.4},{"id":"g47","klasse":"God","n":9,"aar":2000.65,"dyp":55.5},{"id":"g47","klasse":"God","n":10,"aar":2000.51,"dyp":44.6},{"id":"g47","klasse":"God","n":11,"aar":2000.51,"dyp":24.6},{"id":"g47","klasse":"God","n":12,"aar":2000.68,"dyp":20.2},{"id":"g47","klasse":"God","n":13,"aar":2000.76,"dyp":18.7},
      {"id":"y47","klasse":"Mindre god","n":1,"aar":2000.72,"dyp":23.3},{"id":"y47","klasse":"Mindre god","n":2,"aar":2000.83,"dyp":28},{"id":"y47","klasse":"Mindre god","n":3,"aar":2000.86,"dyp":36},{"id":"y47","klasse":"Mindre god","n":4,"aar":2000.86,"dyp":43.5},{"id":"y47","klasse":"Mindre god","n":5,"aar":2000.83,"dyp":50},{"id":"y47","klasse":"Mindre god","n":6,"aar":2000.80,"dyp":56.5},{"id":"y47","klasse":"Mindre god","n":7,"aar":2000.71,"dyp":48},{"id":"y47","klasse":"Mindre god","n":8,"aar":2000.61,"dyp":43.5},{"id":"y47","klasse":"Mindre god","n":9,"aar":2000.61,"dyp":30},{"id":"y47","klasse":"Mindre god","n":10,"aar":2000.68,"dyp":26},{"id":"y47","klasse":"Mindre god","n":11,"aar":2000.72,"dyp":23.3},
      {"id":"g48","klasse":"God","n":1,"aar":2001.94,"dyp":18.3},{"id":"g48","klasse":"God","n":2,"aar":2001.97,"dyp":20},{"id":"g48","klasse":"God","n":3,"aar":2001.98,"dyp":81},{"id":"g48","klasse":"God","n":4,"aar":2002.00,"dyp":100},{"id":"g48","klasse":"God","n":5,"aar":2002.11,"dyp":117},{"id":"g48","klasse":"God","n":6,"aar":2002.13,"dyp":140},{"id":"g48","klasse":"God","n":7,"aar":2002.13,"dyp":150},{"id":"g48","klasse":"God","n":8,"aar":2002.00,"dyp":150},{"id":"g48","klasse":"God","n":9,"aar":2001.92,"dyp":140},{"id":"g48","klasse":"God","n":10,"aar":2001.90,"dyp":117},{"id":"g48","klasse":"God","n":11,"aar":2001.90,"dyp":81},{"id":"g48","klasse":"God","n":12,"aar":2001.81,"dyp":53.7},{"id":"g48","klasse":"God","n":13,"aar":2001.68,"dyp":44.6},{"id":"g48","klasse":"God","n":14,"aar":2001.58,"dyp":40},{"id":"g48","klasse":"God","n":15,"aar":2001.58,"dyp":21.5},{"id":"g48","klasse":"God","n":16,"aar":2001.62,"dyp":21},{"id":"g48","klasse":"God","n":17,"aar":2001.94,"dyp":18.3},
      {"id":"g49","klasse":"God","n":1,"aar":2002.59,"dyp":12.8},{"id":"g49","klasse":"God","n":2,"aar":2002.65,"dyp":18},{"id":"g49","klasse":"God","n":3,"aar":2002.60,"dyp":24.2},{"id":"g49","klasse":"God","n":4,"aar":2002.53,"dyp":18},{"id":"g49","klasse":"God","n":5,"aar":2002.59,"dyp":12.8},
      {"id":"g50","klasse":"God","n":1,"aar":2003.75,"dyp":9.4},{"id":"g50","klasse":"God","n":2,"aar":2003.85,"dyp":10},{"id":"g50","klasse":"God","n":3,"aar":2003.82,"dyp":14},{"id":"g50","klasse":"God","n":4,"aar":2003.76,"dyp":18.5},{"id":"g50","klasse":"God","n":5,"aar":2003.74,"dyp":14},{"id":"g50","klasse":"God","n":6,"aar":2003.75,"dyp":9.4},
      {"id":"g51","klasse":"God","n":1,"aar":2004.74,"dyp":16.9},{"id":"g51","klasse":"God","n":2,"aar":2004.85,"dyp":18.5},{"id":"g51","klasse":"God","n":3,"aar":2004.82,"dyp":31},{"id":"g51","klasse":"God","n":4,"aar":2004.74,"dyp":37.4},{"id":"g51","klasse":"God","n":5,"aar":2004.65,"dyp":33.7},{"id":"g51","klasse":"God","n":6,"aar":2004.53,"dyp":30},{"id":"g51","klasse":"God","n":7,"aar":2004.53,"dyp":19.2},{"id":"g51","klasse":"God","n":8,"aar":2004.74,"dyp":16.9},
      {"id":"g52","klasse":"God","n":1,"aar":2006.68,"dyp":16.3},{"id":"g52","klasse":"God","n":2,"aar":2006.94,"dyp":20},{"id":"g52","klasse":"God","n":3,"aar":2007.02,"dyp":44.6},{"id":"g52","klasse":"God","n":4,"aar":2006.94,"dyp":50},{"id":"g52","klasse":"God","n":5,"aar":2006.90,"dyp":65},{"id":"g52","klasse":"God","n":6,"aar":2006.87,"dyp":78.7},{"id":"g52","klasse":"God","n":7,"aar":2006.83,"dyp":62.8},{"id":"g52","klasse":"God","n":8,"aar":2006.79,"dyp":50},{"id":"g52","klasse":"God","n":9,"aar":2006.75,"dyp":42.8},{"id":"g52","klasse":"God","n":10,"aar":2006.62,"dyp":31},{"id":"g52","klasse":"God","n":11,"aar":2006.62,"dyp":20},{"id":"g52","klasse":"God","n":12,"aar":2006.68,"dyp":16.3},
      {"id":"y52","klasse":"Mindre god","n":1,"aar":2006.86,"dyp":29},{"id":"y52","klasse":"Mindre god","n":2,"aar":2006.91,"dyp":35},{"id":"y52","klasse":"Mindre god","n":3,"aar":2006.89,"dyp":42},{"id":"y52","klasse":"Mindre god","n":4,"aar":2006.84,"dyp":35},{"id":"y52","klasse":"Mindre god","n":5,"aar":2006.86,"dyp":29},
      {"id":"g53","klasse":"God","n":1,"aar":2007.69,"dyp":16.9},{"id":"g53","klasse":"God","n":2,"aar":2007.80,"dyp":21},{"id":"g53","klasse":"God","n":3,"aar":2007.78,"dyp":29},{"id":"g53","klasse":"God","n":4,"aar":2007.69,"dyp":32.4},{"id":"g53","klasse":"God","n":5,"aar":2007.60,"dyp":29},{"id":"g53","klasse":"God","n":6,"aar":2007.61,"dyp":21},{"id":"g53","klasse":"God","n":7,"aar":2007.69,"dyp":16.9},
      {"id":"g54","klasse":"God","n":1,"aar":2008.85,"dyp":9.4},{"id":"g54","klasse":"God","n":2,"aar":2008.86,"dyp":30},{"id":"g54","klasse":"God","n":3,"aar":2008.85,"dyp":49.6},{"id":"g54","klasse":"God","n":4,"aar":2008.85,"dyp":70},{"id":"g54","klasse":"God","n":5,"aar":2008.84,"dyp":88},{"id":"g54","klasse":"God","n":6,"aar":2008.83,"dyp":70},{"id":"g54","klasse":"God","n":7,"aar":2008.79,"dyp":49.6},{"id":"g54","klasse":"God","n":8,"aar":2008.66,"dyp":44.6},{"id":"g54","klasse":"God","n":9,"aar":2008.56,"dyp":37.4},{"id":"g54","klasse":"God","n":10,"aar":2008.50,"dyp":26.5},{"id":"g54","klasse":"God","n":11,"aar":2008.53,"dyp":18.7},{"id":"g54","klasse":"God","n":12,"aar":2008.66,"dyp":16.4},{"id":"g54","klasse":"God","n":13,"aar":2008.85,"dyp":9.4},
      {"id":"g55","klasse":"God","n":1,"aar":2009.53,"dyp":14.6},{"id":"g55","klasse":"God","n":2,"aar":2009.70,"dyp":14.6},{"id":"g55","klasse":"God","n":3,"aar":2009.73,"dyp":26.5},{"id":"g55","klasse":"God","n":4,"aar":2009.70,"dyp":38},{"id":"g55","klasse":"God","n":5,"aar":2009.66,"dyp":43.7},{"id":"g55","klasse":"God","n":6,"aar":2009.61,"dyp":38},{"id":"g55","klasse":"God","n":7,"aar":2009.53,"dyp":30},{"id":"g55","klasse":"God","n":8,"aar":2009.53,"dyp":14.6},
      {"id":"g56","klasse":"God","n":1,"aar":2010.68,"dyp":14.6},{"id":"g56","klasse":"God","n":2,"aar":2010.76,"dyp":20},{"id":"g56","klasse":"God","n":3,"aar":2010.68,"dyp":26.5},{"id":"g56","klasse":"God","n":4,"aar":2010.60,"dyp":20},{"id":"g56","klasse":"God","n":5,"aar":2010.68,"dyp":14.6},
      {"id":"g57","klasse":"God","n":1,"aar":2011.80,"dyp":13.3},{"id":"g57","klasse":"God","n":2,"aar":2011.85,"dyp":20},{"id":"g57","klasse":"God","n":3,"aar":2011.84,"dyp":30},{"id":"g57","klasse":"God","n":4,"aar":2011.80,"dyp":39.6},{"id":"g57","klasse":"God","n":5,"aar":2011.71,"dyp":33},{"id":"g57","klasse":"God","n":6,"aar":2011.66,"dyp":30},{"id":"g57","klasse":"God","n":7,"aar":2011.76,"dyp":26.5},{"id":"g57","klasse":"God","n":8,"aar":2011.77,"dyp":20},{"id":"g57","klasse":"God","n":9,"aar":2011.80,"dyp":13.3},
      {"id":"g58","klasse":"God","n":1,"aar":2010.82,"dyp":55.1},{"id":"g58","klasse":"God","n":2,"aar":2010.82,"dyp":81},{"id":"g58","klasse":"God","n":3,"aar":2010.87,"dyp":100},{"id":"g58","klasse":"God","n":4,"aar":2010.87,"dyp":111},{"id":"g58","klasse":"God","n":5,"aar":2010.89,"dyp":150},{"id":"g58","klasse":"God","n":6,"aar":2010.50,"dyp":150},{"id":"g58","klasse":"God","n":7,"aar":2010.50,"dyp":112.8},{"id":"g58","klasse":"God","n":8,"aar":2010.69,"dyp":111},{"id":"g58","klasse":"God","n":9,"aar":2010.68,"dyp":90},{"id":"g58","klasse":"God","n":10,"aar":2010.63,"dyp":81},{"id":"g58","klasse":"God","n":11,"aar":2010.67,"dyp":77.4},{"id":"g58","klasse":"God","n":12,"aar":2010.76,"dyp":65},{"id":"g58","klasse":"God","n":13,"aar":2010.82,"dyp":55.1},
      {"id":"g59","klasse":"God","n":1,"aar":2003.83,"dyp":58.7},{"id":"g59","klasse":"God","n":2,"aar":2003.85,"dyp":70},{"id":"g59","klasse":"God","n":3,"aar":2003.94,"dyp":81},{"id":"g59","klasse":"God","n":4,"aar":2004.03,"dyp":95},{"id":"g59","klasse":"God","n":5,"aar":2004.07,"dyp":103.7},{"id":"g59","klasse":"God","n":6,"aar":2004.14,"dyp":150},{"id":"g59","klasse":"God","n":7,"aar":2003.79,"dyp":150},{"id":"g59","klasse":"God","n":8,"aar":2003.81,"dyp":110},{"id":"g59","klasse":"God","n":9,"aar":2003.82,"dyp":81},{"id":"g59","klasse":"God","n":10,"aar":2003.82,"dyp":65},{"id":"g59","klasse":"God","n":11,"aar":2003.83,"dyp":58.7},
      {"id":"g60","klasse":"God","n":1,"aar":2007.05,"dyp":116.5},{"id":"g60","klasse":"God","n":2,"aar":2007.05,"dyp":130},{"id":"g60","klasse":"God","n":3,"aar":2007.06,"dyp":150},{"id":"g60","klasse":"God","n":4,"aar":2006.94,"dyp":150},{"id":"g60","klasse":"God","n":5,"aar":2007.00,"dyp":130},{"id":"g60","klasse":"God","n":6,"aar":2007.05,"dyp":116.5},
      {"id":"g61","klasse":"God","n":1,"aar":2008.02,"dyp":103.7},{"id":"g61","klasse":"God","n":2,"aar":2008.04,"dyp":120},{"id":"g61","klasse":"God","n":3,"aar":2008.08,"dyp":150},{"id":"g61","klasse":"God","n":4,"aar":2007.95,"dyp":150},{"id":"g61","klasse":"God","n":5,"aar":2007.99,"dyp":120},{"id":"g61","klasse":"God","n":6,"aar":2008.02,"dyp":103.7},
      {"id":"g62","klasse":"God","n":1,"aar":2011.96,"dyp":76.4},{"id":"g62","klasse":"God","n":2,"aar":2011.98,"dyp":100},{"id":"g62","klasse":"God","n":3,"aar":2011.96,"dyp":121.4},{"id":"g62","klasse":"God","n":4,"aar":2011.93,"dyp":100},{"id":"g62","klasse":"God","n":5,"aar":2011.96,"dyp":76.4},
      {"id":"g63","klasse":"God","n":1,"aar":2011.96,"dyp":133.7},{"id":"g63","klasse":"God","n":2,"aar":2012.02,"dyp":150},{"id":"g63","klasse":"God","n":3,"aar":2011.96,"dyp":150},{"id":"g63","klasse":"God","n":4,"aar":2011.96,"dyp":133.7},
      {"id":"g64","klasse":"God","n":1,"aar":2004.91,"dyp":141.5},{"id":"g64","klasse":"God","n":2,"aar":2004.93,"dyp":150},{"id":"g64","klasse":"God","n":3,"aar":2004.89,"dyp":150},{"id":"g64","klasse":"God","n":4,"aar":2004.91,"dyp":141.5},
      {"id":"g65","klasse":"God","n":1,"aar":1988.13,"dyp":111.7},{"id":"g65","klasse":"God","n":2,"aar":1988.19,"dyp":120},{"id":"g65","klasse":"God","n":3,"aar":1988.19,"dyp":150},{"id":"g65","klasse":"God","n":4,"aar":1987.97,"dyp":150},{"id":"g65","klasse":"God","n":5,"aar":1988.05,"dyp":125},{"id":"g65","klasse":"God","n":6,"aar":1988.13,"dyp":111.7},
      {"id":"g66","klasse":"God","n":1,"aar":1991.92,"dyp":125.5},{"id":"g66","klasse":"God","n":2,"aar":1991.94,"dyp":150},{"id":"g66","klasse":"God","n":3,"aar":1991.90,"dyp":150},{"id":"g66","klasse":"God","n":4,"aar":1991.92,"dyp":125.5}
    ],
    "proveDyp": [{"dyp":4},{"dyp":8},{"dyp":12},{"dyp":16},{"dyp":20},{"dyp":30},{"dyp":40},{"dyp":50},{"dyp":60},{"dyp":80},{"dyp":100},{"dyp":125}],
    "tettProve": [{"dyp":4,"fra":1973.35,"til":1974.52},{"dyp":8,"fra":1973.35,"til":1974.52},{"dyp":12,"fra":1973.35,"til":1974.52},{"dyp":16,"fra":1973.4,"til":1974.52},{"dyp":20,"fra":1973.35,"til":1974.52},{"dyp":30,"fra":1973.35,"til":1974.58},{"dyp":40,"fra":1973.35,"til":1974.45},{"dyp":50,"fra":1973.35,"til":1974.45},{"dyp":60,"fra":1973.35,"til":1974.45},{"dyp":80,"fra":1973.3,"til":1974.52},{"dyp":100,"fra":1973.3,"til":1974.52},{"dyp":125,"fra":1973.48,"til":1974.52}],
    "aarsmerker": [{"aar":1975.5},{"aar":1980.5},{"aar":1985.5},{"aar":1990.5},{"aar":1995.5},{"aar":2000.5},{"aar":2005.5},{"aar":2010.5}],
    "klasser": [{"klasse":"Meget dårlig","grense":"2.5"},{"klasse":"Dårlig","grense":"3.5"},{"klasse":"Mindre god","grense":"4"},{"klasse":"God","grense":"4.5"},{"klasse":"Meget god","grense":""}]
  },
  "vconcat": [
    {
      "width": 1031,
      "height": 550,
      "view": {"fill": "#dbe8fb", "stroke": "#444", "strokeWidth": 1},
      "encoding": {
        "x": {"type": "quantitative", "title": null,
          "scale": {"domain": [1973, 2013], "nice": false, "zero": false},
          "axis": {"orient": "top", "values": [1973,1974,1975,1976,1977,1978,1979,1980,1981,1982,1983,1984,1985,1986,1987,1988,1989,1990,1991,1992,1993,1994,1995,1996,1997,1998,1999,2000,2001,2002,2003,2004,2005,2006,2007,2008,2009,2010,2011,2012,2013],
            "format": "d", "labelExpr": "datum.value % 5 === 0 ? datum.label : ''",
            "labelOffset": 12.9, "tickSize": 13, "tickColor": "#777", "domainColor": "#222",
            "labelFontSize": 24, "labelPadding": 2, "labelFlush": false, "labelOverlap": false, "labelBound": false, "title": null}},
        "y": {"type": "quantitative", "title": null,
          "scale": {"domain": [0, 150], "reverse": true, "nice": false, "zero": false},
          "axis": {"orient": "left", "values": [0, 25, 50, 75, 100, 125, 150], "tickSize": 13, "tickColor": "#555", "domainColor": "#666",
            "labelFontSize": 24, "labelPadding": 3, "labelOverlap": false, "labelBound": false, "title": null}}
      },
      "layer": [
        {
          "data": {"name": "felt"},
          "transform": [{"filter": "datum.klasse === 'God'"}],
          "mark": {"type": "line", "stroke": "#000", "strokeWidth": 1, "strokeJoin": "round"},
          "encoding": {
            "x": {"field": "aar"},
            "y": {"field": "dyp"},
            "fill": {"field": "klasse", "type": "nominal", "legend": null,
              "scale": {"domain": ["Meget dårlig", "Dårlig", "Mindre god", "God", "Meget god"], "range": ["#ff0000", "#ff9933", "#ffff00", "#66e060", "#dbe8fb"]}},
            "detail": {"field": "id"},
            "order": {"field": "n", "type": "quantitative"}
          }
        },
        {
          "data": {"name": "felt"},
          "transform": [{"filter": "datum.klasse === 'Mindre god'"}],
          "mark": {"type": "line", "stroke": "#000", "strokeWidth": 1, "strokeJoin": "round"},
          "encoding": {
            "x": {"field": "aar"},
            "y": {"field": "dyp"},
            "fill": {"field": "klasse", "type": "nominal", "legend": null},
            "detail": {"field": "id"},
            "order": {"field": "n", "type": "quantitative"}
          }
        },
        {
          "data": {"name": "felt"},
          "transform": [{"filter": "datum.klasse === 'Dårlig'"}],
          "mark": {"type": "line", "stroke": "#000", "strokeWidth": 1, "strokeJoin": "round"},
          "encoding": {
            "x": {"field": "aar"},
            "y": {"field": "dyp"},
            "fill": {"field": "klasse", "type": "nominal", "legend": null},
            "detail": {"field": "id"},
            "order": {"field": "n", "type": "quantitative"}
          }
        },
        {
          "data": {"name": "proveDyp"},
          "mark": {"type": "rule", "color": "#000", "strokeWidth": 1.4, "strokeDash": [2, 4]},
          "encoding": {
            "x": null,
            "y": {"field": "dyp"}
          }
        },
        {
          "data": {"name": "tettProve"},
          "mark": {"type": "rule", "color": "#000", "strokeWidth": 1.4},
          "encoding": {
            "x": {"field": "fra"},
            "x2": {"field": "til"},
            "y": {"field": "dyp"}
          }
        },
        {
          "data": {"name": "aarsmerker"},
          "mark": {"type": "point", "shape": "M0,-1L0,0.3M-0.5,0.2L0,1L0.5,0.2Z", "size": 64, "fill": "#000", "stroke": "#000", "strokeWidth": 1, "opacity": 1},
          "encoding": {
            "x": {"field": "aar"},
            "y": {"datum": 0}
          }
        },
        {
          "data": {"values": [{}]},
          "mark": {"type": "rect", "fill": null, "filled": false, "stroke": "#bfe9a0", "strokeWidth": 1.5},
          "encoding": {
            "x": {"datum": 1973},
            "x2": {"datum": 2013},
            "y": {"datum": -10.1},
            "y2": {"datum": 0}
          }
        }
      ]
    },
    {
      "width": 1031,
      "height": 47,
      "data": {"name": "klasser"},
      "title": {"text": "Skala for klassifisering", "fontSize": 24, "fontWeight": "normal", "color": "#000", "anchor": "middle", "frame": "group", "dx": -60, "offset": 5},
      "layer": [
        {
          "mark": {"type": "rect", "stroke": "#333", "strokeWidth": 1},
          "encoding": {
            "x": {"field": "klasse", "type": "nominal", "sort": null, "title": null,
              "scale": {"domain": ["Meget dårlig", "Dårlig", "Mindre god", "God", "Meget god"], "range": [143, 874], "paddingInner": 0, "paddingOuter": 0},
              "axis": {"orient": "bottom", "ticks": false, "domain": false, "labelAngle": 0, "labelFontSize": 19, "labelPadding": 30, "labelOffset": -4, "labelOverlap": false, "title": null}},
            "fill": {"field": "klasse", "type": "nominal", "legend": null,
              "scale": {"domain": ["Meget dårlig", "Dårlig", "Mindre god", "God", "Meget god"], "range": ["#ff0000", "#ff9933", "#ffff00", "#66e060", "#dbe8fb"]}}
          }
        },
        {
          "mark": {"type": "text", "dx": 73.1, "dy": 38.5, "fontSize": 19, "align": "center", "baseline": "middle", "color": "#000"},
          "encoding": {
            "x": {"field": "klasse", "type": "nominal", "sort": null, "title": null},
            "text": {"field": "grense"}
          }
        }
      ]
    }
  ]
}
